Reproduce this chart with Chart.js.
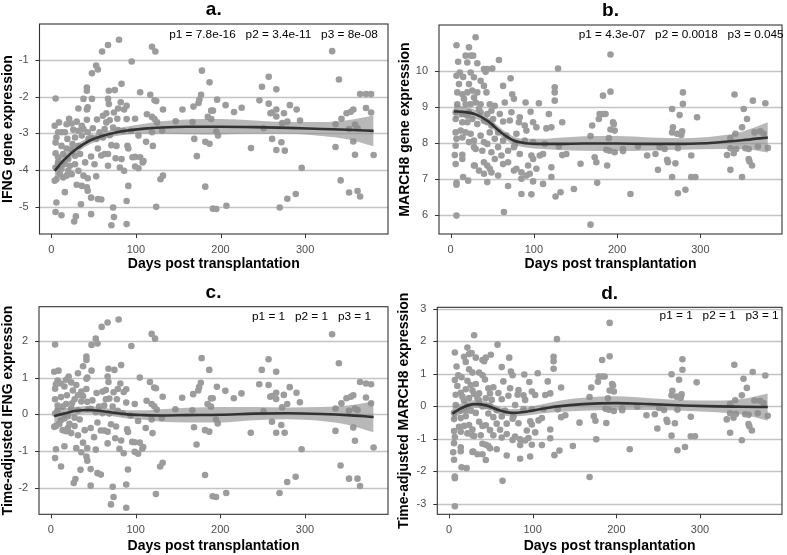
<!DOCTYPE html>
<html>
<head>
<meta charset="utf-8">
<script src="https://cdn.jsdelivr.net/npm/chart.js@4.4.1/dist/chart.umd.min.js"></script>
<style>
  body { margin: 0; background: #fff; width: 787px; height: 555px; overflow: hidden; position: relative; }
  canvas { position: absolute; }
</style>
</head>
<body>
<canvas id="chartA" width="394" height="277" style="left:0;top:0"></canvas>
<canvas id="chartB" width="393" height="277" style="left:394px;top:0"></canvas>
<canvas id="chartC" width="394" height="277" style="left:0;top:278px"></canvas>
<canvas id="chartD" width="393" height="277" style="left:394px;top:278px"></canvas>
<script>
// Tick labels
var DAY_TICKS = [0, 100, 200, 300];
var IFNG_TICKS = [-5, -4, -3, -2, -1];
var MARCH8_TICKS = [6, 7, 8, 9, 10];
var IFNG_ADJ_TICKS = [-2, -1, 0, 1, 2];
var MARCH8_ADJ_TICKS = [-3, -2, -1, 0, 1, 2, 3];

// Samples for IFNG panels (a, c): days post transplantation
var IFNG_DAYS = [
  147,155,168,167,169,172,174,175,177,178, 182,182,185,187,187,189,191,189,191,195,
  196,195,197,206,207,216,225,236,246,249, 251,257,257,259,261,261,266,266,266,266,
  270,272,273,275,276,279,279,282,289,290, 294,296,332,336,336,340,342,343,349,352,
  354,357,357,359,359,362,365,365,372,378, 372,378,381,352,362,
  5,80,67,60,119,123,95,53,55,48, 83,42,42,68,75,105,117,122,124,38,
  48,67,68,82,89,32,42,43,79,86, 132,21,24,30,42,54,61,65,69,74,
  78,89,99,113,119,122,125,8,12,16, 6,26,32,38,43,49,57,63,69,79,
  85,94,103,112,120,5,12,18,25,32, 44,55,63,71,77,90,91,96,99,105,
  108,5,8,14,20,28,34,47,59,67, 76,83,67,81,86,99,103,5,12,20,
  24,14,4,6,38,43,53,36,42,47, 55,59,43,30,16,6,5,12,35,29,
  27,47,73,74,71,89,89,91,124,129, 132,109,119,131,9,4,18,19,28,36,
  47,53,61,8,16,22,28,40,10,18, 32,51,24,36,65,73
];
var IFNG = [
  -2.67,-2.35,-2.27,-2.69,-3.15,-3.62,-2.17,-2.08,-1.95,-1.29, -3.23,-4.45,-2.55,-1.61,-3.28,-2.38,-2.38,-2.61,-5.05,-5.06,
  -2.08,-2.95,-3.06,-2.23,-4.97,-2.42,-2.30,-3.40,-2.10,-1.73, -2.86,-1.46,-2.19,-2.45,-2.43,-3.15,-1.80,-2.35,-2.54,-3.45,
  -5.02,-3.24,-2.72,-2.45,-3.47,-2.68,-4.78,-2.23,-4.65,-2.35, -2.65,-3.94,-0.76,-2.75,-3.37,-1.53,-4.28,-2.60,-2.45,-4.61,
  -2.41,-2.35,-3.22,-2.76,-3.58,-4.57,-4.72,-1.93,-1.93,-1.93, -2.31,-2.43,-3.59,-2.88,-2.86,
  -2.05,-0.45,-0.59,-0.77,-0.64,-0.77,-1.04,-1.15,-1.26,-1.36, -1.65,-1.75,-1.84,-1.84,-1.82,-1.88,-1.95,-2.10,-2.12,-2.06,
  -2.06,-2.06,-2.20,-2.15,-2.25,-2.32,-2.35,-2.29,-2.32,-2.35, -2.35,-2.60,-2.73,-2.68,-2.63,-2.62,-2.52,-2.45,-2.64,-2.43,
  -2.60,-2.61,-2.60,-2.48,-2.55,-2.61,-2.70,-2.97,-2.97,-2.97, -3.11,-2.90,-2.93,-2.88,-2.97,-2.86,-2.97,-2.88,-3.05,-2.91,
  -2.93,-2.93,-3.06,-3.23,-3.34,-3.25,-3.34,-3.41,-3.29,-3.34, -3.15,-3.41,-3.56,-3.32,-3.34,-3.34,-3.41,-3.65,-3.64,-3.65,
  -3.79,-3.54,-3.65,-3.56,-3.70,-3.61,-3.56,-3.63,-3.60,-3.56, -3.68,-3.70,-3.88,-3.93,-4.02,-3.90,-3.95,-3.93,-3.97,-4.02,
  -4.11,-4.20,-4.29,-4.25,-4.15,-4.22,-4.17,-4.43,-4.47,-4.75, -4.79,-4.80,-4.56,-4.40,-4.60,-4.88,-5.14,-5.23,-4.93,-5.26,
  -5.40,-5.20,-5.02,-5.28,-5.50,-4.84,-5.47,-4.43,-5.00,-4.25, -4.15,-3.75,-2.97,-2.93,-2.70,-2.79,-2.75,-3.15,-3.11,-3.06,
  -3.11,-3.15,-3.11,-3.79,-3.84,-3.88,-3.84,-3.79,-4.11,-4.15, -4.02,-3.84,-3.43,-2.79,-2.70,-2.84
];
var IFNG_ADJ = [
  0.14,0.45,0.55,0.11,-0.35,-0.82,0.65,0.74,0.86,1.53, -0.43,-1.65,0.28,1.21,-0.47,0.44,0.44,0.21,-2.23,-2.25,
  0.75,-0.14,-0.25,0.64,-2.14,0.44,0.57,-0.50,0.82,1.21, 0.09,1.50,0.80,0.48,0.50,-0.20,1.16,0.59,0.42,-0.50,
  -2.14,-0.29,0.19,0.53,-0.50,0.28,-1.84,0.74,-1.70,0.59, 0.33,-0.95,2.18,0.16,-0.45,1.39,-1.39,0.30,0.44,-1.75,
  0.48,0.52,-0.36,0.16,-0.72,-1.75,-1.95,0.88,0.84,0.82, 0.46,0.30,-0.90,0.10,0.12,
  1.90,2.58,2.50,2.38,2.19,2.06,1.86,2.06,1.93,1.89, 1.34,1.57,1.48,1.24,1.21,1.00,0.88,0.73,0.71,1.31,
  1.19,1.03,0.88,0.84,0.68,1.12,0.97,1.00,0.69,0.61, 0.48,1.03,0.87,0.80,0.69,0.58,0.62,0.66,0.43,0.60,
  0.41,0.32,0.28,0.37,0.28,0.22,0.13,0.92,0.84,0.76, 0.82,0.65,0.52,0.49,0.34,0.38,0.21,0.24,0.02,0.10,
  0.03,-0.03,-0.18,-0.37,-0.51,0.70,0.47,0.28,0.30,0.11, 0.14,-0.22,-0.44,-0.27,-0.33,-0.41,-0.48,-0.75,-0.76,-0.77,
  -0.93,0.41,0.24,0.21,-0.05,-0.09,-0.14,-0.37,-0.44,-0.47, -0.65,-0.71,-0.79,-0.94,-1.06,-1.02,-1.07,0.02,-0.16,-0.37,
  -0.51,-0.43,-0.34,-0.32,-0.77,-0.92,-0.96,-1.03,-1.15,-1.49, -1.60,-1.64,-1.26,-0.92,-0.87,-0.95,-1.19,-1.42,-1.51,-1.76,
  -1.87,-1.94,-1.97,-2.25,-2.45,-1.91,-2.54,-1.50,-2.17,-1.42, -1.32,-0.89,-0.14,-0.10,1.19,1.16,0.94,0.52,0.41,0.35,
  0.15,0.06,0.03,0.10,-0.11,-0.26,-0.32,-0.43,-0.26,-0.46, -0.57,-0.62,0.16,0.62,0.41,0.21
];

// Samples for MARCH8 panels (b, d)
var MARCH8_DAYS = [
  139,148,156,168,168,170,173,175,176,178, 179,183,186,183,188,190,187,192,192,192,
  195,196,197,197,191,207,207,216,225,236, 246,249,251,257,260,261,266,267,266,266,
  270,272,273,275,277,279,279,278,273,282, 289,289,294,296,332,336,336,340,341,342,
  343,350,350,352,354,356,358,358,359,362, 363,365,369,372,376,378,381,336,
  7,30,22,9,18,24,27,20,32,40, 44,50,58,11,7,15,24,28,36,42,
  72,63,129,8,14,20,26,32,43,18, 24,30,36,47,53,65,74,76,90,106,
  125,125,125,6,14,22,36,49,59,73, 83,96,118,6,14,20,32,44,51,63,
  71,82,89,99,103,115,121,134,6,12, 24,36,47,57,67,79,91,7,14,28,
  40,53,63,77,89,99,113,130,134,6, 5,14,28,30,38,49,57,69,76,83,
  97,107,111,6,14,28,40,44,53,63, 69,79,85,93,99,103,121,15,21,7,
  7,40,44,49,57,69,76,85,91,95, 99,111,121,85,97,126,132,64,7,29,
  34,10,22,16,28,40,34,44,49,8, 20,26,40,18,22,44,61,47
];
var MARCH8 = [
  7.69,6.72,7.42,5.73,8.19,8.48,7.60,7.46,6.89,8.66, 8.80,8.80,8.80,9.31,7.37,8.13,7.81,10.45,9.42,8.37,
  8.57,8.52,8.34,7.74,7.78,7.83,7.77,6.58,7.90,7.65, 7.69,7.25,7.88,7.83,7.53,7.46,8.94,8.43,8.29,7.05,
  7.43,8.25,6.60,8.77,8.22,9.40,9.08,8.32,7.85,6.70, 7.65,7.05,7.05,8.71,7.66,7.25,8.13,7.71,9.34,8.25,
  7.83,7.05,8.43,8.94,7.85,8.66,7.83,7.55,7.48,7.37, 9.17,8.29,7.90,8.32,8.25,9.10,7.86,7.85,
  10.71,10.93,10.65,10.25,10.42,10.42,10.42,10.23,10.21,10.05, 10.05,10.06,10.30,9.95,9.86,9.83,9.95,9.82,9.72,9.97,
  9.79,9.58,10.06,9.40,9.35,9.40,9.45,9.40,9.40,9.07, 9.07,9.12,9.07,9.07,9.03,9.12,9.35,9.22,9.12,9.10,
  9.54,9.40,9.17,8.85,8.80,8.85,8.85,8.89,8.80,8.85, 8.71,8.86,8.80,8.66,8.57,8.57,8.52,8.57,8.66,8.59,
  8.62,8.57,8.48,8.57,8.43,8.40,8.43,8.57,8.29,8.34, 8.25,8.20,8.29,8.29,8.20,8.25,8.34,8.11,8.15,8.06,
  8.02,8.11,8.06,7.94,8.06,8.02,7.97,7.90,7.66,7.92, 7.66,7.67,7.88,7.83,7.78,7.74,7.88,7.78,7.88,7.69,
  7.65,7.65,7.69,7.41,7.55,7.37,7.46,7.37,7.55,7.41, 7.46,7.28,7.18,7.37,7.55,7.28,7.32,7.05,6.95,6.89,
  6.84,7.14,6.91,7.18,7.09,6.80,7.23,7.00,7.09,7.14, 6.93,6.86,7.05,6.58,6.57,6.51,6.63,6.08,5.98,7.37,
  7.23,9.63,9.63,9.22,9.26,9.58,8.94,8.80,8.48,9.07, 8.75,8.66,8.61,8.29,8.02,7.97,7.65,7.28
];
var MARCH8_ADJ = [
  -0.27,-1.22,-0.50,-2.17,0.29,0.58,-0.30,-0.44,-1.01,0.76, 0.92,0.92,0.92,1.43,-0.51,0.25,-0.07,2.57,1.54,0.49,
  0.69,0.64,0.46,-0.14,-0.10,-0.06,-0.12,-1.32,-0.01,-0.27, -0.24,-0.68,-0.05,-0.11,-0.41,-0.48,0.99,0.48,0.34,-0.90,
  -0.52,0.30,-1.35,0.82,0.27,1.45,1.13,0.37,-0.10,-1.25, -0.32,-0.92,-0.92,0.74,-0.40,-0.81,0.07,-0.35,1.28,0.19,
  -0.23,-1.04,0.34,0.85,-0.24,0.57,-0.26,-0.54,-0.61,-0.74, 1.06,0.18,-0.21,0.17,0.10,0.95,-0.29,-0.21,
  1.66,2.19,1.81,1.23,1.53,1.61,1.64,1.37,1.50,1.43, 1.50,1.59,1.90,0.96,0.81,0.90,1.14,1.04,1.04,1.39,
  1.50,1.21,2.07,0.36,0.42,0.53,0.66,0.69,0.83,0.18, 0.26,0.38,0.40,0.56,0.59,0.77,1.07,0.96,0.98,1.02,
  1.53,1.39,1.16,-0.20,-0.13,0.00,0.18,0.40,0.41,0.56, 0.50,0.75,0.77,-0.39,-0.36,-0.30,-0.20,0.01,0.20,0.22,
  0.33,0.36,0.34,0.46,0.35,0.35,0.40,0.58,-0.76,-0.63, -0.57,-0.47,-0.22,-0.12,-0.13,0.04,0.20,-0.94,-0.78,-0.71,
  -0.60,-0.33,-0.31,-0.32,-0.08,-0.09,-0.08,-0.09,-0.33,-1.13, -1.41,-1.26,-0.89,-0.91,-0.89,-0.73,-0.53,-0.53,-0.38,-0.52,
  -0.46,-0.43,-0.36,-1.64,-1.38,-1.40,-1.15,-1.18,-0.89,-0.96, -0.85,-0.93,-1.01,-0.74,-0.56,-0.80,-0.71,-1.87,-1.90,-2.16,
  -2.21,-1.47,-1.65,-1.29,-1.32,-1.51,-1.03,-1.19,-1.05,-0.97, -1.18,-1.19,-0.98,-1.61,-1.54,-1.50,-1.36,-2.29,-3.07,-1.39,
  -1.47,0.63,0.79,0.30,0.49,0.96,0.25,0.25,0.00,0.04, -0.12,-0.13,0.00,-0.60,-0.83,-0.58,-0.72,-1.22
];

// Smoothed fits and confidence bands, read at these days
var FIT_DAYS = [4, 15, 30, 45, 60, 75, 90, 110, 130, 160, 200, 240, 280, 320, 350, 381];
var IFNG_FIT = [-4.02,-3.72,-3.42,-3.20,-3.07,-2.98,-2.92,-2.87,-2.84,-2.82,-2.82,-2.83,-2.85,-2.88,-2.90,-2.93];
var IFNG_HI  = [-3.80,-3.57,-3.31,-3.10,-2.97,-2.88,-2.81,-2.74,-2.67,-2.62,-2.61,-2.65,-2.69,-2.69,-2.64,-2.51];
var IFNG_LO  = [-4.24,-3.87,-3.53,-3.30,-3.17,-3.08,-3.03,-3.00,-3.01,-3.02,-3.03,-3.01,-3.01,-3.07,-3.16,-3.35];
var MARCH8_FIT = [8.87,8.86,8.79,8.60,8.30,8.07,7.99,7.97,7.97,7.98,7.98,7.97,7.97,8.01,8.07,8.15];
var MARCH8_HI  = [9.09,9.01,8.91,8.71,8.41,8.18,8.11,8.11,8.14,8.18,8.19,8.15,8.13,8.19,8.31,8.57];
var MARCH8_LO  = [8.65,8.71,8.67,8.49,8.19,7.96,7.87,7.83,7.80,7.78,7.77,7.79,7.81,7.83,7.83,7.73];
var IFNG_ADJ_FIT = [-0.05,0.02,0.10,0.12,0.09,0.04,0.00,-0.02,-0.03,-0.02,-0.01,0.02,0.03,0.01,-0.02,-0.07];
var IFNG_ADJ_HI  = [0.17,0.17,0.21,0.22,0.19,0.14,0.11,0.11,0.14,0.18,0.20,0.20,0.19,0.20,0.24,0.35];
var IFNG_ADJ_LO  = [-0.27,-0.13,-0.01,0.02,-0.01,-0.06,-0.11,-0.15,-0.20,-0.22,-0.22,-0.16,-0.13,-0.18,-0.28,-0.49];
var MARCH8_ADJ_FIT = [-0.22,-0.05,0.07,0.03,-0.12,-0.20,-0.17,-0.08,0.00,0.07,0.10,0.07,0.03,0.00,-0.01,-0.02];
var MARCH8_ADJ_HI  = [0.00,0.10,0.19,0.14,-0.01,-0.09,-0.05,0.06,0.17,0.27,0.31,0.25,0.19,0.18,0.23,0.40];
var MARCH8_ADJ_LO  = [-0.44,-0.20,-0.05,-0.08,-0.23,-0.31,-0.29,-0.22,-0.17,-0.13,-0.11,-0.11,-0.13,-0.18,-0.25,-0.44];

var FONT = "'Liberation Sans', Arial, Helvetica, sans-serif";
Chart.defaults.font.family = FONT;

// horizontal grid + tick marks under the data, border / letter / p-values on top
var panelDecor = {
  id: 'panelDecor',
  beforeDatasetsDraw: function (chart) {
    var a = chart.chartArea;
    var ctx = chart.ctx;
    var xs = chart.scales.x, ys = chart.scales.y;
    ctx.save();
    ctx.strokeStyle = '#c4c4c4';
    ctx.lineWidth = 1.4;
    ys.ticks.forEach(function (t) {
      var py = Math.round(ys.getPixelForValue(t.value)) + 0.5;
      ctx.beginPath(); ctx.moveTo(a.left, py); ctx.lineTo(a.right, py); ctx.stroke();
    });
    ctx.strokeStyle = '#333';
    ctx.lineWidth = 1;
    ys.ticks.forEach(function (t) {
      var py = Math.round(ys.getPixelForValue(t.value)) + 0.5;
      ctx.beginPath(); ctx.moveTo(a.left - 4, py); ctx.lineTo(a.left, py); ctx.stroke();
    });
    xs.ticks.forEach(function (t) {
      var px = Math.round(xs.getPixelForValue(t.value)) + 0.5;
      ctx.beginPath(); ctx.moveTo(px, a.bottom); ctx.lineTo(px, a.bottom + 4); ctx.stroke();
    });
    ctx.restore();
  },
  afterDraw: function (chart, args, opts) {
    var a = chart.chartArea;
    var ctx = chart.ctx;
    ctx.save();
    ctx.strokeStyle = '#333';
    ctx.lineWidth = 1.1;
    ctx.strokeRect(a.left, a.top, a.right - a.left, a.bottom - a.top);
    ctx.fillStyle = '#000';
    ctx.textBaseline = 'middle';
    ctx.textAlign = 'center';
    ctx.font = 'bold 19px ' + FONT;
    ctx.fillText(opts.letter, (a.left + a.right) / 2, a.top - 14);
    ctx.textAlign = 'right';
    ctx.font = '11.8px ' + FONT;
    ctx.fillText(opts.note, chart.scales.x.getPixelForValue(opts.noteX), chart.scales.y.getPixelForValue(opts.noteY));
    ctx.restore();
  }
};

function toPoints(xs, ys) {
  return xs.map(function (x, i) { return { x: x, y: ys[i] }; });
}

function makePanel(p) {
  var none = 'rgba(0,0,0,0)';
  return new Chart(document.getElementById(p.id), {
    type: 'scatter',
    data: {
      datasets: [
        { type: 'line', data: toPoints(FIT_DAYS, p.fit), borderColor: '#333', borderWidth: 2.6,
          pointRadius: 0, cubicInterpolationMode: 'monotone', fill: false, order: 0 },
        { type: 'line', data: toPoints(FIT_DAYS, p.hi), borderColor: none, borderWidth: 1,
          pointRadius: 0, cubicInterpolationMode: 'monotone', fill: '+1', backgroundColor: 'rgba(140,140,140,0.62)', order: 1 },
        { type: 'line', data: toPoints(FIT_DAYS, p.lo), borderColor: none, borderWidth: 1,
          pointRadius: 0, cubicInterpolationMode: 'monotone', fill: false, order: 1 },
        { data: toPoints(p.days, p.values), pointRadius: 3.3, backgroundColor: '#9c9c9c',
          borderWidth: 0, order: 2 }
      ]
    },
    options: {
      responsive: false,
      animation: false,
      layout: { padding: { top: p.padTop, right: p.padRight, left: 0, bottom: 0 } },
      plugins: {
        legend: { display: false },
        tooltip: { enabled: false },
        panelDecor: { letter: p.letter, note: p.note, noteX: p.noteX, noteY: p.noteY }
      },
      scales: {
        x: {
          type: 'linear', min: -14, max: 398,
          afterBuildTicks: function (s) { s.ticks = DAY_TICKS.map(function (v) { return { value: v }; }); },
          afterFit: function (s) { s.height = p.xHeight; },
          border: { display: false },
          grid: { display: false },
          ticks: { color: '#4d4d4d', font: { size: 11 }, padding: 1, maxRotation: 0, autoSkip: false,
                   callback: function (v) { return String(v); } },
          title: { display: true, text: 'Days post transplantation', color: '#000',
                   font: { size: 14, weight: 'bold' }, padding: { top: 0, bottom: p.xTitlePad } }
        },
        y: {
          type: 'linear', min: p.yMin, max: p.yMax,
          afterBuildTicks: function (s) { s.ticks = p.ticks.map(function (v) { return { value: v }; }); },
          afterFit: function (s) { s.width = p.yWidth; },
          border: { display: false },
          grid: { display: false },
          ticks: { color: '#4d4d4d', font: { size: 11 }, padding: 3,
                   callback: function (v) { return String(v); } },
          title: { display: true, text: p.yTitle, color: '#000',
                   font: { size: 14, weight: 'bold' }, padding: { top: p.yTitlePad, bottom: 0 } }
        }
      }
    },
    plugins: [panelDecor]
  });
}

makePanel({
  id: 'chartA', letter: 'a.', yTitle: 'IFNG gene expression',
  days: IFNG_DAYS, values: IFNG, fit: IFNG_FIT, hi: IFNG_HI, lo: IFNG_LO,
  ticks: IFNG_TICKS, yMin: -5.74, yMax: -0.02,
  note: 'p1 = 7.8e-16   p2 = 3.4e-11   p3 = 8e-08', noteX: 386, noteY: -0.32,
  padTop: 24, padRight: 6, yWidth: 39.5, xHeight: 43, xTitlePad: 4, yTitlePad: 0
});
makePanel({
  id: 'chartB', letter: 'b.', yTitle: 'MARCH8 gene expression',
  days: MARCH8_DAYS, values: MARCH8, fit: MARCH8_FIT, hi: MARCH8_HI, lo: MARCH8_LO,
  ticks: MARCH8_TICKS, yMin: 5.47, yMax: 11.27,
  note: 'p1 = 4.3e-07   p2 = 0.0018   p3 = 0.045', noteX: 400, noteY: 10.99,
  padTop: 25, padRight: 5, yWidth: 45, xHeight: 43, xTitlePad: 4, yTitlePad: 3
});
makePanel({
  id: 'chartC', letter: 'c.', yTitle: 'Time-adjusted IFNG expression',
  days: IFNG_DAYS, values: IFNG_ADJ, fit: IFNG_ADJ_FIT, hi: IFNG_ADJ_HI, lo: IFNG_ADJ_LO,
  ticks: IFNG_ADJ_TICKS, yMin: -2.72, yMax: 2.93,
  note: 'p1 = 1   p2 = 1   p3 = 1', noteX: 378, noteY: 2.66,
  padTop: 28.7, padRight: 6, yWidth: 39, xHeight: 40.7, xTitlePad: 0, yTitlePad: 0
});
makePanel({
  id: 'chartD', letter: 'd.', yTitle: 'Time-adjusted MARCH8 expression',
  days: MARCH8_DAYS, values: MARCH8_ADJ, fit: MARCH8_ADJ_FIT, hi: MARCH8_ADJ_HI, lo: MARCH8_ADJ_LO,
  ticks: MARCH8_ADJ_TICKS, yMin: -3.32, yMax: 3.05,
  note: 'p1 = 1   p2 = 1   p3 = 1', noteX: 394, noteY: 2.79,
  padTop: 29.3, padRight: 5, yWidth: 43.3, xHeight: 40.7, xTitlePad: 0, yTitlePad: 1.6
});
</script>
</body>
</html>
